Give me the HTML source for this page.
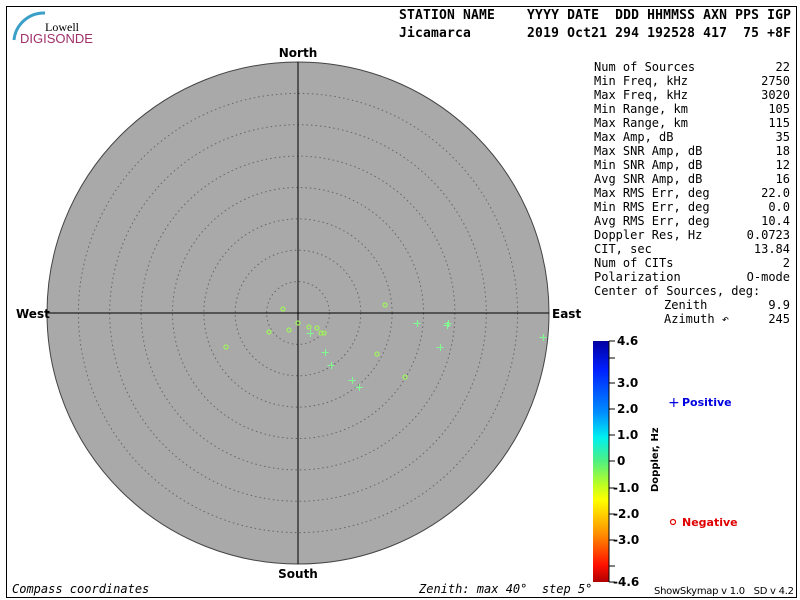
<!DOCTYPE html><html><head><style>body{margin:0;background:#fff}svg{display:block}text{white-space:pre}</style></head><body>
<svg width="800" height="600" xmlns="http://www.w3.org/2000/svg" font-family="DejaVu Sans Mono, Liberation Mono, monospace">
<defs><linearGradient id="g" x1="0" y1="0" x2="0" y2="1">
<stop offset="0" stop-color="#0000a0"/><stop offset="0.12" stop-color="#0020ff"/><stop offset="0.3" stop-color="#0090ff"/><stop offset="0.4" stop-color="#00f0f0"/><stop offset="0.5" stop-color="#50f080"/><stop offset="0.6" stop-color="#c0ff20"/><stop offset="0.66" stop-color="#ffff00"/><stop offset="0.8" stop-color="#ff9000"/><stop offset="0.93" stop-color="#ff1000"/><stop offset="1" stop-color="#b00000"/></linearGradient></defs>
<rect x="6.5" y="6.5" width="790" height="591" fill="none" stroke="#000"/>
<path d="M14,40 A30,30 0 0 1 45,13" fill="none" stroke="#3aa0c8" stroke-width="3"/>
<text x="79" y="31" font-family="Liberation Serif,serif" font-size="12" text-anchor="end">Lowell</text>
<text x="20" y="43" font-family="Liberation Sans,sans-serif" font-size="13" fill="#a0306a">DIGISONDE</text>
<g font-size="13" font-weight="bold">
<text x="399" y="19" textLength="392">STATION NAME    YYYY DATE  DDD HHMMSS AXN PPS IGP</text>
<text x="399" y="37" textLength="392">Jicamarca       2019 Oct21 294 192528 417  75 +8F</text></g>
<circle cx="298" cy="313" r="251" fill="#a9a9a9" stroke="#444"/>
<g fill="none" stroke="#666" stroke-dasharray="1.5,3">
<circle cx="298" cy="313" r="31.4"/><circle cx="298" cy="313" r="62.8"/><circle cx="298" cy="313" r="94.1"/><circle cx="298" cy="313" r="125.5"/><circle cx="298" cy="313" r="156.9"/><circle cx="298" cy="313" r="188.3"/><circle cx="298" cy="313" r="219.6"/></g>
<path d="M298,62V564M47,313H549" stroke="#000"/>
<g font-size="12" font-weight="bold" font-family="DejaVu Sans,sans-serif">
<text x="298" y="57" text-anchor="middle">North</text><text x="298" y="578" text-anchor="middle">South</text>
<text x="16" y="318">West</text><text x="552" y="318">East</text></g>
<g fill="none" stroke="#a0f060" stroke-width="1.3">
<circle cx="283" cy="309" r="2"/><circle cx="385" cy="305" r="2"/><circle cx="298" cy="323" r="2"/><circle cx="309" cy="327" r="2"/><circle cx="317" cy="328" r="2"/><circle cx="269" cy="332" r="2"/><circle cx="289" cy="330" r="2"/><circle cx="321" cy="333" r="2"/><circle cx="324" cy="333" r="2"/><circle cx="226" cy="347" r="2"/><circle cx="377" cy="354" r="2"/><circle cx="405" cy="377" r="2"/></g>
<g stroke="#80ff90" stroke-width="1" fill="none">
<path d="M413.5,323.5h7M417.5,320v7M444.5,323.5h7M448.5,320v7M443.5,325.5h7M447.5,322v7M306.5,333.5h7M310.5,330v7M321.5,352.5h7M325.5,349v7M327.5,365.5h7M331.5,362v7M348.5,380.5h7M352.5,377v7M355.5,387.5h7M359.5,384v7M436.5,347.5h7M440.5,344v7M539.5,337.5h7M543.5,334v7"/></g>
<g font-size="12">
<text x="594" y="71">Num of Sources</text><text x="790" y="71" text-anchor="end">22</text>
<text x="594" y="85">Min Freq, kHz</text><text x="790" y="85" text-anchor="end">2750</text>
<text x="594" y="99">Max Freq, kHz</text><text x="790" y="99" text-anchor="end">3020</text>
<text x="594" y="113">Min Range, km</text><text x="790" y="113" text-anchor="end">105</text>
<text x="594" y="127">Max Range, km</text><text x="790" y="127" text-anchor="end">115</text>
<text x="594" y="141">Max Amp, dB</text><text x="790" y="141" text-anchor="end">35</text>
<text x="594" y="155">Max SNR Amp, dB</text><text x="790" y="155" text-anchor="end">18</text>
<text x="594" y="169">Min SNR Amp, dB</text><text x="790" y="169" text-anchor="end">12</text>
<text x="594" y="183">Avg SNR Amp, dB</text><text x="790" y="183" text-anchor="end">16</text>
<text x="594" y="197">Max RMS Err, deg</text><text x="790" y="197" text-anchor="end">22.0</text>
<text x="594" y="211">Min RMS Err, deg</text><text x="790" y="211" text-anchor="end">0.0</text>
<text x="594" y="225">Avg RMS Err, deg</text><text x="790" y="225" text-anchor="end">10.4</text>
<text x="594" y="239">Doppler Res, Hz</text><text x="790" y="239" text-anchor="end">0.0723</text>
<text x="594" y="253">CIT, sec</text><text x="790" y="253" text-anchor="end">13.84</text>
<text x="594" y="267">Num of CITs</text><text x="790" y="267" text-anchor="end">2</text>
<text x="594" y="281">Polarization</text><text x="790" y="281" text-anchor="end">O-mode</text>
<text x="594" y="295">Center of Sources, deg:</text>
<text x="664" y="309">Zenith</text><text x="790" y="309" text-anchor="end">9.9</text>
<text x="664" y="323">Azimuth ↶</text><text x="790" y="323" text-anchor="end">245</text>
<text x="12" y="593" font-style="italic">Compass coordinates</text>
<text x="419" y="593" font-style="italic">Zenith: max 40°  step 5°</text></g>
<text x="654" y="594" font-size="10" font-family="DejaVu Sans,sans-serif" textLength="140">ShowSkymap v 1.0   SD v 4.2</text>
<rect x="593" y="341" width="16" height="241" fill="url(#g)"/>
<path d="M609,341V582M609,341h6M609,358h6M609,383h6M609,409h6M609,435h6M609,461h6M609,488h6M609,514h6M609,540h6M609,566h6M609,582h6" stroke="#000" fill="none"/>
<g font-size="12" font-weight="bold" font-family="DejaVu Sans,sans-serif">
<text x="617" y="345">4.6</text><text x="617" y="387">3.0</text><text x="617" y="413">2.0</text><text x="617" y="439">1.0</text><text x="617" y="465">0</text><text x="613" y="492">-1.0</text><text x="613" y="518">-2.0</text><text x="613" y="544">-3.0</text><text x="613" y="586">-4.6</text>
<text x="682" y="406" font-size="11" fill="#0000e0">Positive</text><text x="682" y="526" font-size="11" fill="#e00000">Negative</text></g>
<text x="668" y="407" font-size="14" fill="#0000e0" font-family="DejaVu Sans,sans-serif">+</text>
<circle cx="673" cy="522" r="2.5" fill="none" stroke="#e00000" stroke-width="1.2"/>
<text transform="translate(658,492) rotate(-90)" font-size="10" font-weight="bold" font-family="DejaVu Sans,sans-serif">Doppler, Hz</text>
</svg></body></html>
